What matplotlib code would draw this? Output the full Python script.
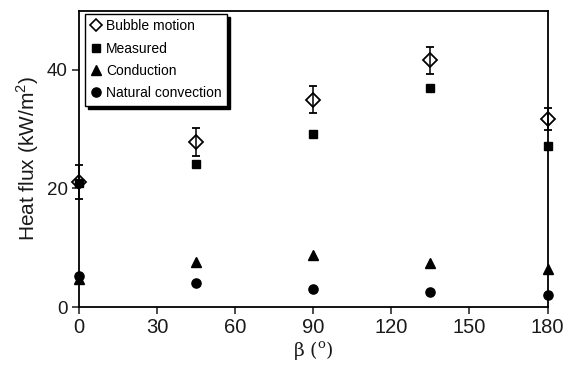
import matplotlib
matplotlib.use("Agg")
import matplotlib.pyplot as plt
from matplotlib.lines import Line2D

plt.rcParams['font.family'] = ['Liberation Sans', 'DejaVu Sans']
plt.rcParams['mathtext.fontset'] = 'custom'
plt.rcParams['mathtext.rm'] = 'Liberation Sans'

# Inclination angle (degrees)
angles = [0, 45, 90, 135, 180]
# Heat flux components (kW/m^2)
bubble_motion = [21.1, 27.8, 35.0, 41.6, 31.8]
bubble_err = [2.85, 2.4, 2.3, 2.35, 1.85]
measured = [21.0, 24.2, 29.2, 36.9, 27.2]
conduction = [4.7, 7.6, 8.75, 7.4, 6.4]
natural_conv = [5.2, 4.1, 3.1, 2.6, 2.0]

series_names = ['Bubble motion', 'Measured', 'Conduction', 'Natural convection']
x_ticks = [0, 30, 60, 90, 120, 150, 180]
y_ticks = [0, 20, 40]

fig = plt.figure(figsize=(5.77, 3.66), dpi=100)
ax = fig.add_axes([0.1369, 0.1612, 0.8120, 0.8096])

eb = ax.errorbar(angles, bubble_motion, yerr=bubble_err, fmt='D', ms=7.5,
                 mfc='none', mec='black', mew=1.3, ecolor='black',
                 elinewidth=1.1, capsize=3.2, capthick=1.1,
                 clip_on=False, zorder=3)
for art in eb.lines[1] + eb.lines[2]:
    art.set_clip_on(False)
ax.plot(angles, measured, 's', ms=6.2, color='black', clip_on=False, zorder=4)
ax.plot(angles, conduction, '^', ms=7.2, color='black', clip_on=False, zorder=4)
ax.plot(angles, natural_conv, 'o', ms=6.6, color='black', clip_on=False, zorder=4)

ax.set_xlim(0, 180)
ax.set_ylim(0, 50)
ax.set_xticks(x_ticks)
ax.set_yticks(y_ticks)
ax.tick_params(direction='out', length=5, width=1.1, colors='#1a1a1a',
               top=False, right=False, pad=3)
ax.tick_params(axis='x', labelsize=14.5)
ax.tick_params(axis='y', labelsize=13.5)
for sp in ax.spines.values():
    sp.set_linewidth(1.3)
    sp.set_color('black')

ax.set_xlabel(r'β ($^\mathregular{o}$)', fontsize=13.5, color='#1a1a1a',
              labelpad=1, family=['DejaVu Serif'])
ax.set_ylabel(r'Heat flux (kW/m$^\mathregular{2}$)', fontsize=15,
              color='#1a1a1a', labelpad=4)

handles = [
    Line2D([], [], ls='none', marker='D', ms=6.3, mfc='none', mec='black', mew=1.2),
    Line2D([], [], ls='none', marker='s', ms=6.2, color='black'),
    Line2D([], [], ls='none', marker='^', ms=7.2, color='black'),
    Line2D([], [], ls='none', marker='o', ms=6.6, color='black'),
]
leg = ax.legend(handles, series_names, loc='upper left',
                bbox_to_anchor=(0.012, 0.99), borderaxespad=0,
                fontsize=10, frameon=True, fancybox=False,
                shadow={'color': 'black', 'alpha': 1.0, 'ox': 2.2, 'oy': -2.2},
                handlelength=0.8, handletextpad=0.35, labelspacing=0.6,
                borderpad=0.4, numpoints=1)
leg.get_frame().set_edgecolor('black')
leg.get_frame().set_linewidth(1.0)

fig.savefig('out.png', dpi=100)
